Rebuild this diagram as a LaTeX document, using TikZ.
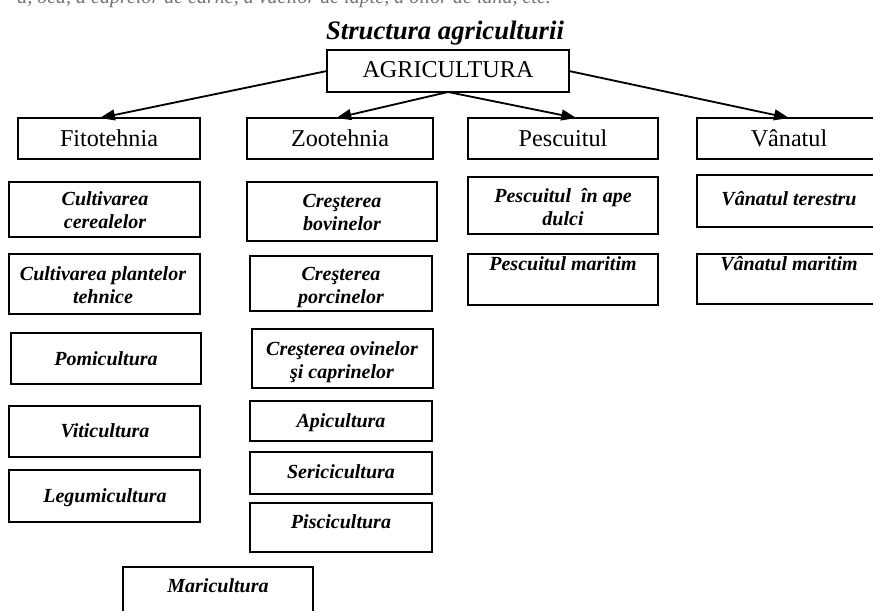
\documentclass[tikz,border=0pt]{standalone}
\usepackage{fontspec}
\setmainfont{Liberation Serif}
\usetikzlibrary{arrows.meta,calc}

% box given by its corner coordinates (x1,y1) and (x2,y2)
\newcommand\cellbox[5]{%
  \pgfmathsetmacro\cbw{(#4-#2)*0.6}%
  \pgfmathsetmacro\cbh{(#5-#3)*0.6}%
  \node[frame, minimum width=\cbw pt, minimum height=\cbh pt] (#1) at ({(#2+#4)/2},{(#3+#5)/2}) {};%
}
% text whose first baseline sits at height #3
\newcommand\celltext[4]{%
  \node[leaftext] (#1) at (#2,{#3-16.1}) {\strut #4};%
}

\begin{document}
\begin{tikzpicture}[x=0.6pt,y=-0.6pt,
  frame/.style={draw, line width=1.1pt, inner sep=0pt, outer sep=0pt},
  leaftext/.style={anchor=north, inner sep=0pt, align=center,
    font=\fontsize{12}{13.8}\selectfont\bfseries\itshape},
  headtext/.style={anchor=base, inner sep=0pt, font=\fontsize{14.5}{17}\selectfont},
  arr/.style={line width=1.1pt, -{Triangle[length=9pt,width=6.5pt]}}]

\useasboundingbox (0,0) rectangle (873,611);
\fill[white] (0,0) rectangle (873,611);
\clip (0,0) rectangle (873,611);

% end of the preceding paragraph line
\node[anchor=base west, inner sep=0pt, text=black!55,
  font=\fontsize{12}{14}\selectfont\itshape] (prev) at (17,4)
  {a, ocă, a caprelor de carne, a vacilor de lapte, a oilor de lână, etc.};

% title
\node[anchor=base, inner sep=0pt, font=\fontsize{16}{19}\selectfont\bfseries\itshape]
  (title) at (445,40) {Structura agriculturii};

% root
\cellbox{agri}{327}{50}{569}{92}
\node[headtext] (agriT) at (448,78) {AGRICULTURA};

% branches
\cellbox{fito}{18}{118}{200}{159}
\cellbox{zoo}{247}{118}{433}{159}
\cellbox{pesc}{468}{118}{658}{159}
\cellbox{van}{697}{118}{881}{159}
\node[headtext] (fitoT) at (109,147) {Fitotehnia};
\node[headtext] (zooT) at (340,147) {Zootehnia};
\node[headtext] (pescT) at (563,147) {Pescuitul};
\node[headtext] (vanT) at (789,147) {Vânatul};

\draw[arr] (agri.west) -- ($(fito.north west)!0.45!(fito.north east)$);
\draw[arr] (agri.south) -- ($(zoo.north west)!0.48!(zoo.north east)$);
\draw[arr] (agri.south) -- ($(pesc.north west)!0.57!(pesc.north east)$);
\draw[arr] (agri.east) -- (van.north);

% Fitotehnia
\cellbox{f1}{9}{182}{200}{237}
\celltext{f1T}{105}{205}{Cultivarea\\cerealelor}
\cellbox{f2}{9}{254}{200}{314}
\celltext{f2T}{103}{280}{Cultivarea plantelor\\tehnice}
\cellbox{f3}{11}{333}{201}{384}
\celltext{f3T}{106}{365}{Pomicultura}
\cellbox{f4}{9}{406}{200}{457}
\celltext{f4T}{105}{437}{Viticultura}
\cellbox{f5}{9}{470}{200}{522}
\celltext{f5T}{105}{502}{Legumicultura}
\cellbox{f6}{123}{567}{313}{630}
\celltext{f6T}{218}{592}{Maricultura}

% Zootehnia
\cellbox{z1}{247}{182}{437}{241}
\celltext{z1T}{342}{207}{Creşterea\\bovinelor}
\cellbox{z2}{250}{256}{432}{311}
\celltext{z2T}{341}{280}{Creşterea\\porcinelor}
\cellbox{z3}{252}{329}{433}{388}
\celltext{z3T}{342}{355}{Creşterea ovinelor\\şi caprinelor}
\cellbox{z4}{250}{401}{432}{441}
\celltext{z4T}{341}{427}{Apicultura}
\cellbox{z5}{250}{452}{432}{494}
\celltext{z5T}{341}{478}{Sericicultura}
\cellbox{z6}{250}{503}{432}{552}
\celltext{z6T}{341}{528}{Piscicultura}

% Pescuitul
\cellbox{p1}{468}{177}{658}{234}
\celltext{p1T}{563}{202}{Pescuitul \ în ape\\dulci}
\cellbox{p2}{468}{254}{658}{305}
\celltext{p2T}{563}{270}{Pescuitul maritim}

% Vanatul
\cellbox{v1}{697}{175}{881}{227}
\celltext{v1T}{789}{205}{Vânatul terestru}
\cellbox{v2}{697}{254}{881}{304}
\celltext{v2T}{789}{270}{Vânatul maritim}

\end{tikzpicture}
\end{document}
